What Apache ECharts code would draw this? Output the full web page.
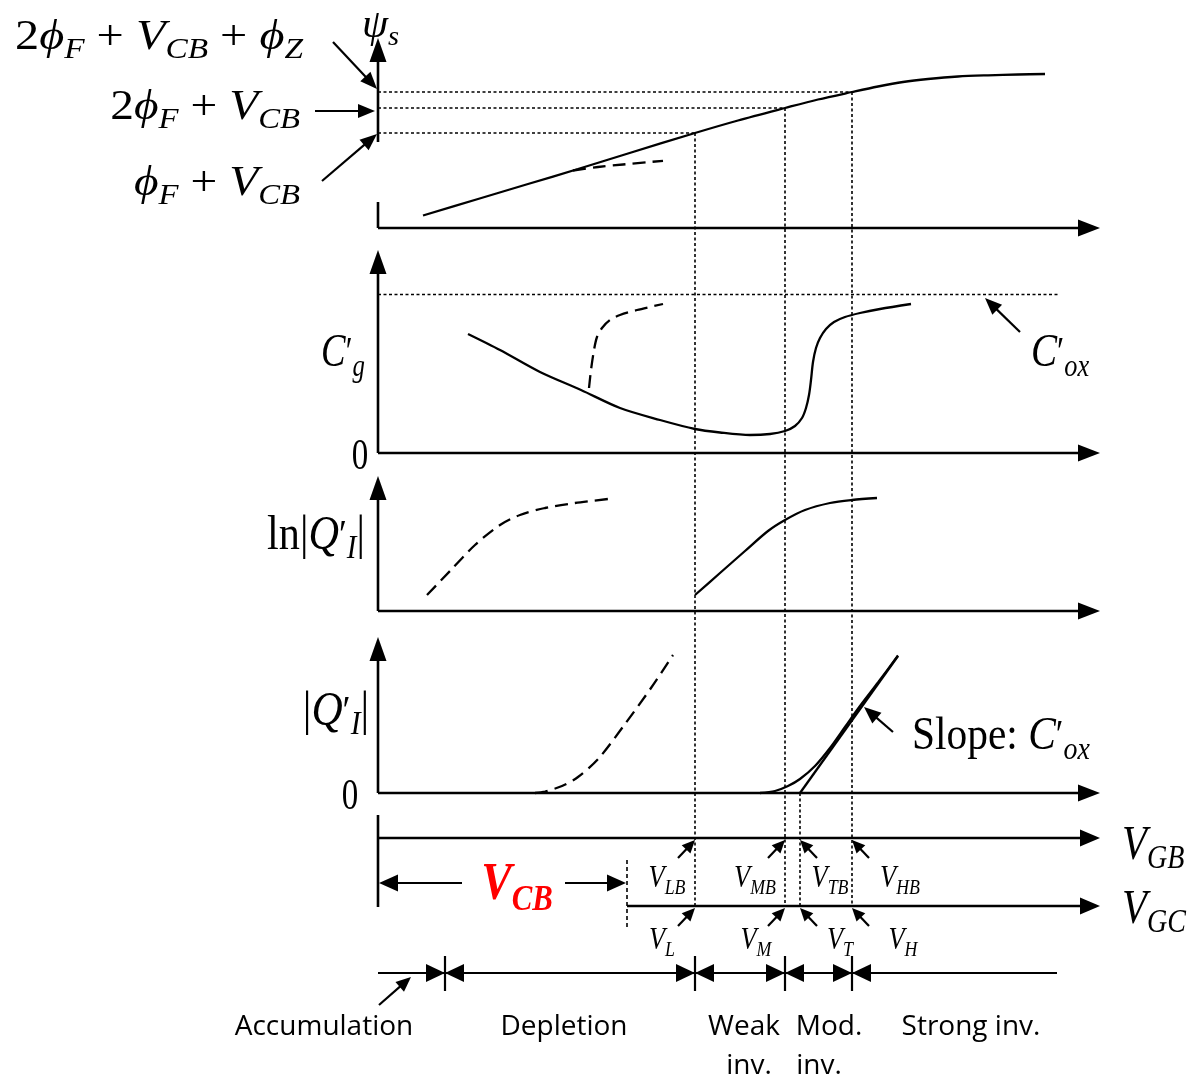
<!DOCTYPE html>
<html><head><meta charset="utf-8">
<script src="https://cdn.jsdelivr.net/npm/echarts@6/dist/echarts.min.js"></script>
<style>html,body{margin:0;padding:0;background:#fff}#c{width:1189px;height:1081px}</style>
</head><body><div id="c"></div>
<script>
// ================= DATA (x in gate-voltage units, y in panel units) =================
const VL = 31.7, VM = 40.7, VT = 42.2, VH = 47.4;   // V_L, V_M, V_T, V_H on the V_GB axis
const VCB = 24.9;                                    // V_CB offset of the V_GC axis
const VAD = 6.7;                                     // accumulation / depletion boundary
const XEND = 72.2;                                   // axis length
const REGION_END = 67.9;

// surface potential psi_s
const psiX = [4.5, 10, 15, 20, 25, 31.7, 36, 40.7, 44, 47.4, 50, 52.5, 55, 58, 61, 64, 66.7];
const psiY = [1.25, 2.9, 4.4, 5.9, 7.45, 9.5, 10.75, 12.0, 12.85, 13.6, 14.15, 14.6, 14.9, 15.15, 15.27, 15.35, 15.4];
const psiDashX = [19.5, 22, 24.5, 28.5];
const psiDashY = [5.75, 6.1, 6.35, 6.72];
const psiLevels = [9.5, 12.0, 13.6];                 // phiF+VCB, 2phiF+VCB, 2phiF+VCB+phiZ

// gate capacitance C'g
const cgX = [9.0, 12.2, 16.2, 20.3, 24.2, 28.2, 31.7, 34.2, 37.2, 39.2, 40.7, 41.7, 42.4, 42.8, 43.1, 43.3, 43.5, 43.8, 44.2, 44.8, 45.6, 46.7, 48.2, 50.2, 53.3];
const cgY = [11.9, 10.3, 8.1, 6.3, 4.5, 3.3, 2.4, 2.05, 1.8, 1.9, 2.2, 2.7, 3.5, 4.5, 5.8, 7.3, 9.1, 10.5, 11.5, 12.4, 13.1, 13.6, 14.0, 14.4, 14.9];
const cgDashX = [21.1, 21.3, 21.6, 21.9, 22.4, 23.2, 24.2, 25.9, 28.5];
const cgDashY = [6.5, 8.3, 10.3, 11.6, 12.5, 13.3, 13.8, 14.3, 14.9];
const COX = 15.85;

// ln|Q'I|
const lnDashX = [4.9, 7.2, 9.7, 12.2, 14.2, 16.7, 19.7, 23.0];
const lnDashY = [1.6, 4.0, 6.6, 8.6, 9.6, 10.3, 10.8, 11.2];
const lnX = [31.7, 34.2, 36.7, 39.0, 40.7, 42.7, 45.2, 47.4, 49.9];
const lnY = [1.6, 3.8, 6.0, 8.0, 9.1, 10.1, 10.8, 11.1, 11.3];

// |Q'I|
const qDashX = [15.7, 16.7, 18.4, 20.0, 22.1, 24.7, 27.3, 29.5];
const qDashY = [0, 0.15, 0.7, 1.6, 3.5, 6.9, 10.5, 13.8];
const qX = [38.2, 39.7, 41.0, 42.2, 43.7, 45.2, 46.7, 48.2, 50.0, 52.0];
const qY = [0, 0.2, 0.7, 1.4, 2.7, 4.5, 6.6, 8.7, 11.05, 13.75];
const qTanX = [42.2, 52.0];
const qTanY = [0, 13.7];

// ================= LAYOUT =================
const U = 10;                                        // px per panel unit
const B = {psi: 228, cg: 453, ln: 611, q: 793};      // panel baselines (px)
const TOP = {psi: 38, cg: 250, ln: 476, q: 637};     // y-axis arrow tips
const yVGB = 838, yVGC = 906, yBar = 973;
const g = (base, v) => base - v * U;
const pts = (X, Y, base) => X.map((x, i) => [x, g(base, Y[i])]);

function curve(X, Y, base, dashed) {
  return {type: 'line', data: pts(X, Y, base), showSymbol: false, smooth: 0.3,
    silent: true, animation: false, z: 3,
    lineStyle: {color: '#000', width: dashed ? 2.3 : 2.3, type: dashed ? [13, 7] : 'solid'}};
}

function segSeries(rows, st) {
  const padded = rows.map(r => r.concat([0, 0, 0, 0, 0, 0, 0]).slice(0, 7));
  return {
    type: 'custom', coordinateSystem: 'cartesian2d', silent: true, animation: false, z: st.z || 2,
    data: padded, dimensions: ['x1', 'y1', 'x2', 'y2', 'hl', 'hw', 'hs'], encode: {x: 0, y: 1},
    renderItem: (params, api) => {
      const a = api.coord([api.value(0), api.value(1)]);
      const b = api.coord([api.value(2), api.value(3)]);
      const hl = api.value(4) || 0, hw = api.value(5) || 0, hs = api.value(6) || 0;
      const dx = b[0] - a[0], dy = b[1] - a[1], len = Math.hypot(dx, dy) || 1;
      const ux = dx / len, uy = dy / len;
      const ch = [];
      let p = a.slice(), q = b.slice();
      const head = (tip, dir, L) => {
        const bx = tip[0] - dir[0] * L, by = tip[1] - dir[1] * L;
        ch.push({type: 'polygon', shape: {points: [tip, [bx - dir[1] * hw / 2, by + dir[0] * hw / 2], [bx + dir[1] * hw / 2, by - dir[0] * hw / 2]]},
          style: {fill: st.color || '#000'}});
        return [tip[0] - dir[0] * L * 0.6, tip[1] - dir[1] * L * 0.6];
      };
      if (hl > 0) q = head(b, [ux, uy], hl);
      if (hs > 0) p = head(a, [-ux, -uy], hs);
      ch.push({type: 'line', shape: {x1: p[0], y1: p[1], x2: q[0], y2: q[1]},
        style: {stroke: st.color || '#000', lineWidth: st.width, lineDash: st.dash || null}});
      return {type: 'group', children: ch};
    }
  };
}

// axes & structural lines
const axisRows = [
  [0, B.psi, XEND, B.psi, 22, 17], [0, 142, 0, TOP.psi, 24, 17], [0, 202, 0, B.psi],
  [0, B.cg, XEND, B.cg, 22, 17], [0, B.cg, 0, TOP.cg, 24, 17],
  [0, B.ln, XEND, B.ln, 22, 17], [0, B.ln, 0, TOP.ln, 24, 17],
  [0, B.q, XEND, B.q, 22, 17], [0, B.q, 0, TOP.q, 24, 17],
  [0, 815, 0, 907],
  [0, yVGB, XEND, yVGB, 20, 17], [VCB, yVGC, XEND, yVGC, 20, 17]
];
const barRows = [
  [0, yBar, REGION_END, yBar],
  [VAD, 956, VAD, 991], [VL, 956, VL, 991], [VM, 956, VM, 991], [VH, 956, VH, 991],
  [0, yBar, VAD, yBar, 19, 18], [VAD, yBar, VL, yBar, 19, 18, 19], [VL, yBar, VM, yBar, 19, 18, 19],
  [VM, yBar, VH, yBar, 19, 18, 19], [REGION_END, yBar, VH, yBar, 19, 18]
];
const dottedRows = [
  [VL, g(B.psi, psiLevels[0]), VL, yVGC], [VM, g(B.psi, psiLevels[1]), VM, yVGC],
  [VT, B.q, VT, yVGC], [VH, g(B.psi, psiLevels[2]), VH, yVGC],
  [0, g(B.psi, psiLevels[0]), VL, g(B.psi, psiLevels[0])],
  [0, g(B.psi, psiLevels[1]), VM, g(B.psi, psiLevels[1])],
  [0, g(B.psi, psiLevels[2]), VH, g(B.psi, psiLevels[2])],
  [0, g(B.cg, COX), 68.1, g(B.cg, COX)]
];
const dashRows = [[VCB, 860, VCB, 927]];
const arrowRows = [
  [-4.5, 42, -0.1, 89, 17, 14], [-6.3, 111, -0.3, 111, 17, 14], [-5.6, 181, -0.1, 134, 17, 14],
  [64.2, 332, 60.7, 298, 17, 14], [51.5, 732, 48.6, 707, 17, 14],
  [8.4, 883, 0.1, 883, 19, 17], [18.7, 883, 24.8, 883, 19, 17],
  [0.1, 1005, 3.3, 977, 15, 13]
];
const smallRows = [];
[[VL, -1], [VM, -1], [VT, 1], [VH, 1]].forEach(([x, s]) => {
  smallRows.push([x + s * 1.7, yVGB + 20, x, yVGB + 2, 13, 12]);
  smallRows.push([x + s * 1.7, yVGC + 20, x, yVGC + 2, 13, 12]);
});

// ================= TEXT =================
const MF = "'Liberation Serif', 'DejaVu Serif', serif";
function R(S) {
  const L = Math.round(S * 1.25), d = S * 0.28;
  return {
    n: {fontFamily: MF, fontSize: S, lineHeight: L, verticalAlign: 'middle'},
    i: {fontFamily: MF, fontStyle: 'italic', fontSize: S, lineHeight: L, verticalAlign: 'middle'},
    s: {fontFamily: MF, fontStyle: 'italic', fontSize: Math.round(S * 0.68), lineHeight: Math.round(L - 2 * d), verticalAlign: 'bottom'},
    p: {fontFamily: MF, fontSize: Math.round(S * 0.85), lineHeight: L, verticalAlign: 'middle'}
  };
}
function T(x, y, text, S, align, sx, color, weight) {
  const rich = R(S);
  if (weight) Object.keys(rich).forEach(k => rich[k].fontWeight = weight);
  if (color) Object.keys(rich).forEach(k => rich[k].fill = color);
  return {type: 'text', x, y, scaleX: sx || 1, z: 10, silent: true,
    style: {text, rich, align: align || 'center', verticalAlign: 'middle', fill: color || '#000'}};
}
const SF = "'Open Sans', sans-serif";
function P(x, y, text) {
  return {type: 'text', x, y, z: 10, silent: true,
    style: {text, fontFamily: SF, fontSize: 28, fill: '#000', align: 'center', verticalAlign: 'middle'}};
}
const PL = ' + ';
const texts = [
  T(362, 26, '{i|ψ}{s|s}', 40, 'left', 1.05),
  T(15, 38, '{n|2}{i|ϕ}{s|F}{n|' + PL + '}{i|V}{s|CB}{n|' + PL + '}{i|ϕ}{s|Z}', 42, 'left', 1.15),
  T(300, 108, '{n|2}{i|ϕ}{s|F}{n|' + PL + '}{i|V}{s|CB}', 42, 'right', 1.13),
  T(300, 184, '{i|ϕ}{s|F}{n|' + PL + '}{i|V}{s|CB}', 42, 'right', 1.13),
  T(343, 354, '{i|C}{p|′}{s|g}', 46, 'center', 0.8),
  T(360, 457, '{n|0}', 44, 'center', 0.75),
  T(1031, 354, '{i|C}{p|′}{s|ox}', 46, 'left', 0.85),
  T(316, 536, '{n|ln|}{i|Q}{p|′}{s|I}{n||}', 48, 'center', 0.88),
  T(336, 712, '{n||}{i|Q}{p|′}{s|I}{n||}', 48, 'center', 0.9),
  T(350, 797, '{n|0}', 44, 'center', 0.75),
  T(912, 737, '{n|Slope: }{i|C}{p|′}{s|ox}', 46, 'left', 0.9),
  T(1122, 846, '{i|V}{s|GB}', 48, 'left', 0.85),
  T(1122, 910, '{i|V}{s|GC}', 48, 'left', 0.85),
  T(667, 879, '{i|V}{s|LB}', 31, 'center', 0.85),
  T(755, 879, '{i|V}{s|MB}', 31, 'center', 0.85),
  T(830, 879, '{i|V}{s|TB}', 31, 'center', 0.85),
  T(900, 879, '{i|V}{s|HB}', 31, 'center', 0.85),
  T(662, 941, '{i|V}{s|L}', 31, 'center', 0.85),
  T(756, 941, '{i|V}{s|M}', 31, 'center', 0.85),
  T(840, 941, '{i|V}{s|T}', 31, 'center', 0.85),
  T(903, 941, '{i|V}{s|H}', 31, 'center', 0.85),
  T(517, 886, '{i|V}{s|CB}', 52, 'center', 0.88, '#ff0000', 'bold'),
  P(324, 1027, 'Accumulation'), P(564, 1027, 'Depletion'),
  P(744, 1027, 'Weak'), P(749, 1066, 'inv.'),
  P(829, 1027, 'Mod.'), P(819, 1066, 'inv.'),
  P(971, 1027, 'Strong inv.')
];

// ================= CHART =================
const chart = echarts.init(document.getElementById('c'), null, {renderer: 'canvas'});
chart.setOption({
  backgroundColor: '#fff',
  animation: false,
  grid: {left: 0, right: 0, top: 0, bottom: 0},
  xAxis: {type: 'value', min: -37.8, max: 81.1, show: false},
  yAxis: {type: 'value', inverse: true, min: 0, max: 1081, show: false},
  graphic: texts,
  series: [
    segSeries(axisRows, {width: 2.6, z: 4}),
    segSeries(barRows, {width: 2.2, z: 4}),
    segSeries(dottedRows, {width: 1.6, dash: [3, 2.5], z: 1}),
    segSeries(dashRows, {width: 1.6, dash: [4, 3], z: 1}),
    segSeries(arrowRows, {width: 2.2, z: 5}),
    segSeries(smallRows, {width: 2.2, z: 5}),
    curve(psiX, psiY, B.psi), curve(psiDashX, psiDashY, B.psi, true),
    curve(cgX, cgY, B.cg), curve(cgDashX, cgDashY, B.cg, true),
    curve(lnX, lnY, B.ln), curve(lnDashX, lnDashY, B.ln, true),
    curve(qX, qY, B.q), curve(qDashX, qDashY, B.q, true),
    Object.assign(curve(qTanX, qTanY, B.q), {smooth: false})
  ]
});
</script>
</body></html>
